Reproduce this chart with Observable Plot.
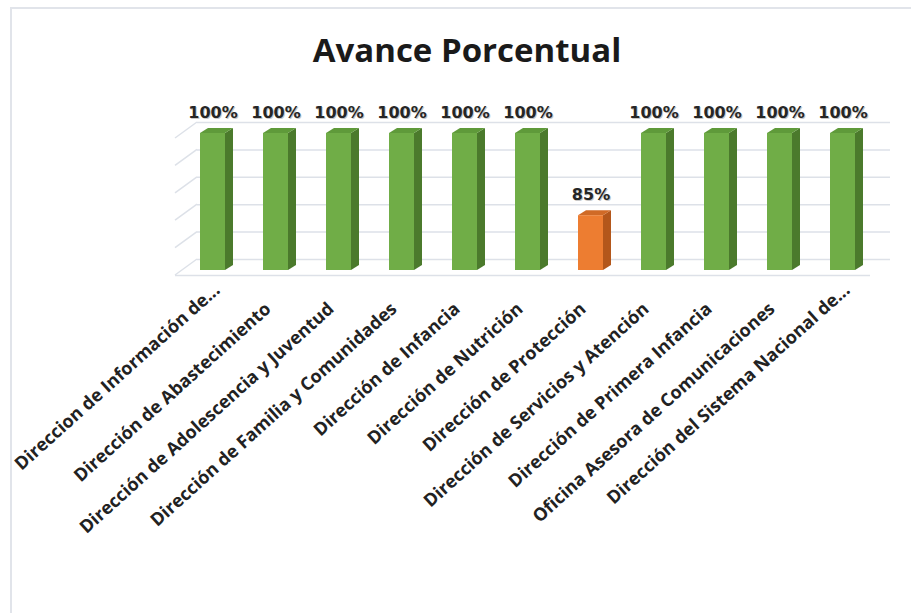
<!DOCTYPE html>
<html>
<head>
<meta charset="utf-8">
<script src="https://cdn.jsdelivr.net/npm/d3@7"></script>
<script src="https://cdn.jsdelivr.net/npm/@observablehq/plot@0.6"></script>
<style>
  html, body { margin: 0; padding: 0; background: #fff; width: 911px; height: 613px; overflow: hidden; }
  #frame { position: absolute; left: 10px; top: 7px; width: 940px; height: 640px;
           border-left: 2px solid #e1e4ea; border-top: 2px solid #e1e4ea; }
  #title { position: absolute; left: 0; top: 30px; width: 934px; text-align: center;
           font: bold 33px "Open Sans", sans-serif; line-height: 40px; color: #1a1a1a; }
  #chart { position: absolute; left: 0; top: 90px; }
</style>
</head>
<body>
<div id="frame"></div>
<div id="title">Avance Porcentual</div>
<div id="chart"></div>
<script>
const names = [
  "Direccion de Información de...",
  "Dirección de Abastecimiento",
  "Dirección de Adolescencia y Juventud",
  "Dirección de Familia y Comunidades",
  "Dirección de Infancia",
  "Dirección de Nutrición",
  "Dirección de Protección",
  "Dirección de Servicios y Atención",
  "Dirección de Primera Infancia",
  "Oficina Asesora de Comunicaciones",
  "Dirección del Sistema Nacional de..."
];
const values = [1.00, 1.00, 1.00, 1.00, 1.00, 1.00, 0.85, 1.00, 1.00, 1.00, 1.00];
const gridTicks = [0.75, 0.80, 0.85, 0.90, 0.95, 1.00];

const data = names.map((name, i) => ({name, value: values[i]}));
const base = 0.75;

const palette = {
  green:  {front: "#70ad47", side: "#4b7a2c", top: "#5f9a3a"},
  orange: {front: "#ed7d31", side: "#b3571b", top: "#d06a26"}
};
const tone = d => d.value < 1 ? palette.orange : palette.green;

const DX = 8, DY = -5;   // bar depth
const WX = 22, WY = -16; // wall depth

// 3D side walls (left diagonals)
function wallEdges(index, scales) {
  const {y} = scales;
  const g = d3.create("svg:g");
  const x0 = 175;
  for (const t of gridTicks) {
    g.append("line")
      .attr("x1", x0).attr("y1", y(t) + 5)
      .attr("x2", x0 + WX).attr("y2", y(t) + 5 + WY)
      .attr("stroke", "#dde1e8").attr("stroke-width", 1.5);
  }
  return g.node();
}

// side & top faces of each bar
function barFaces(index, scales) {
  const {x, y} = scales;
  const bw = typeof x.bandwidth === "function" ? x.bandwidth() : x.bandwidth;
  const g = d3.create("svg:g");
  for (const d of data) {
    const c = tone(d);
    const x1 = x(d.name), x2 = x1 + bw;
    const yt = y(d.value), yb = y(base);
    g.append("path")
      .attr("d", `M${x2},${yt}L${x2 + DX},${yt + DY}L${x2 + DX},${yb + DY}L${x2},${yb}Z`)
      .attr("fill", c.side);
    g.append("path")
      .attr("d", `M${x1},${yt}L${x1 + DX},${yt + DY}L${x2 + DX},${yt + DY}L${x2},${yt}Z`)
      .attr("fill", c.top);
  }
  return g.node();
}

const truncated = d => d.name.endsWith("...");
const labelStyle = {x: "name", y: () => base, text: "name", rotate: -42, textAnchor: "end", lineAnchor: "bottom",
  fontSize: 18, fontWeight: "bold", fontFamily: "Open Sans", fill: "#222"};

const chart = Plot.plot({
  width: 911,
  height: 523,
  marginLeft: 200,
  marginRight: 55,
  marginTop: 43,
  marginBottom: 343,
  style: {background: "transparent", overflow: "visible"},
  x: {domain: names, paddingInner: 0.6, paddingOuter: 0, align: 0.5, label: null, axis: null},
  y: {domain: [base, 1], label: null, axis: null},
  marks: [
    // back wall gridlines
    Plot.ruleY(gridTicks, {y: d => d, dy: -11, insetLeft: -3, insetRight: -34, stroke: "#dde1e8", strokeWidth: 1.5}),
    wallEdges,
    // floor front edge
    Plot.ruleY([base], {dy: 5, insetLeft: -25, insetRight: -14, stroke: "#dde1e8", strokeWidth: 1.5}),
    barFaces,
    Plot.barY(data, {x: "name", y1: base, y2: "value", fill: d => tone(d).front}),
    Plot.text(data, {x: "name", y: "value", text: d => Math.round(d.value * 100) + "%", dy: -20, dx: 1,
      fill: "#c8c8c8", fontSize: 16, fontWeight: "bold", fontFamily: "DejaVu Sans"}),
    Plot.text(data, {x: "name", y: "value", text: d => Math.round(d.value * 100) + "%", dy: -21,
      fill: "#262626", fontSize: 16, fontWeight: "bold", fontFamily: "DejaVu Sans"}),
    // category labels
    Plot.text(data.filter(d => !truncated(d)), {...labelStyle, dx: -4, dy: 40}),
    Plot.text(data.filter(truncated), {...labelStyle, dx: 8, dy: 21})
  ]
});
document.getElementById("chart").appendChild(chart);
</script>
</body>
</html>
